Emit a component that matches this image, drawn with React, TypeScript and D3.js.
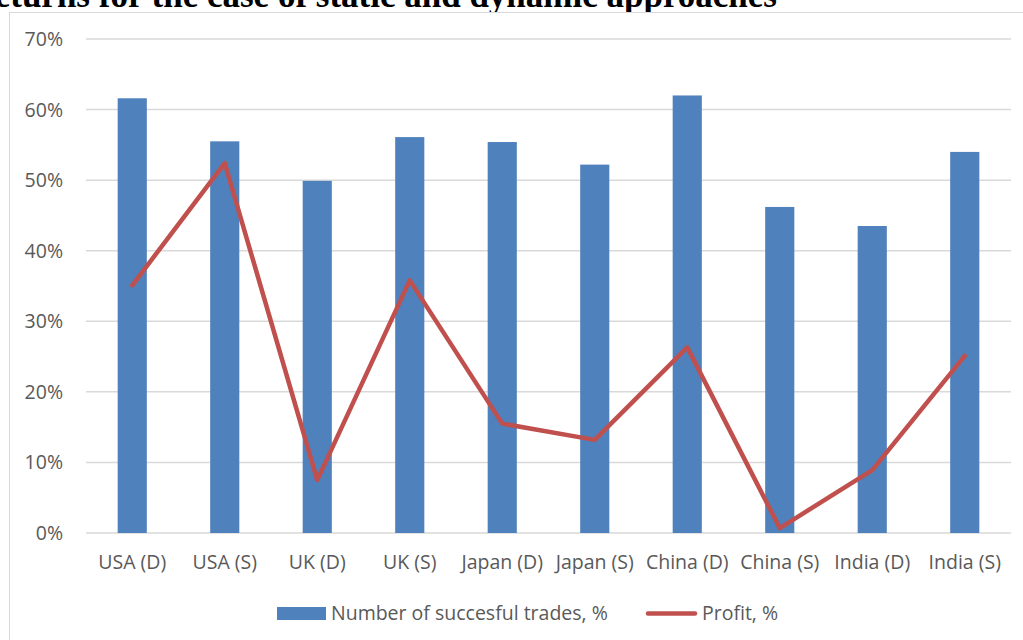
import * as React from 'react';
import * as d3 from 'd3';

const categories = ['USA (D)', 'USA (S)', 'UK (D)', 'UK (S)', 'Japan (D)', 'Japan (S)', 'China (D)', 'China (S)', 'India (D)', 'India (S)'];
const successfulTrades = [61.6, 55.5, 49.9, 56.1, 55.4, 52.2, 62.0, 46.2, 43.5, 54.0];
const profit = [35.1, 52.4, 7.5, 35.8, 15.5, 13.2, 26.3, 0.7, 8.9, 25.1];
const yTicks = [0, 10, 20, 30, 40, 50, 60, 70];
const seriesNames = ['Number of succesful trades, %', 'Profit, %'];
const titleText = 'returns for the case of static and dynamic approaches';

const BAR = '#4F81BD';
const LINE = '#C0504D';
const GRID = '#D9D9D9';
const TEXT = '#595959';
const FONT = '"Open Sans", "Noto Sans", sans-serif';
const FS = 19.5;

const App = () => {
	const width = 1023;
	const height = 640;
	const left = 86;
	const right = 1011;
	const top = 39;
	const bottom = 533;

	const x = d3.scaleBand<string>().domain(categories).range([left, right]).padding(0);
	const y = d3.scaleLinear().domain([0, 70]).range([bottom, top]);
	const barW = x.bandwidth() * 0.315;
	const cx = (c: string) => (x(c) as number) + x.bandwidth() / 2;

	const line = d3
		.line<number>()
		.x((_, i) => cx(categories[i]))
		.y(d => y(d));

	return (
		<svg
			width={width}
			height={height}
			style={{ position: 'absolute', left: 0, top: 0, display: 'block', background: '#fff' }}
		>
			{/* title is clipped by the top of the picture, as in the source */}
			<text
				x={777}
				y={7}
				textAnchor='end'
				fontFamily='"Liberation Serif", "Times New Roman", serif'
				fontWeight='bold'
				fontSize={35}
				fill='#000'
			>
				{titleText}
			</text>
			<rect x={9.5} y={12.5} width={1030} height={660} fill='#fff' stroke={GRID} strokeWidth={1} />

			{yTicks.map(t => (
				<g key={t}>
					<line x1={left} x2={right} y1={y(t)} y2={y(t)} stroke={GRID} strokeWidth={1.5} />
					<text x={63} y={y(t) + 7} textAnchor='end' fontFamily={FONT} fontSize={FS} fill={TEXT}>
						{t}%
					</text>
				</g>
			))}

			{categories.map((c, i) => (
				<rect
					key={c}
					x={cx(c) - barW / 2}
					y={y(successfulTrades[i])}
					width={barW}
					height={y(0) - y(successfulTrades[i])}
					fill={BAR}
				/>
			))}

			<path
				d={line(profit) as string}
				fill='none'
				stroke={LINE}
				strokeWidth={4.5}
				strokeLinejoin='round'
				strokeLinecap='round'
			/>

			{categories.map(c => (
				<text key={c} x={cx(c)} y={569} textAnchor='middle' fontFamily={FONT} fontSize={FS} fill={TEXT}>
					{c}
				</text>
			))}

			<g>
				<rect x={277} y={607} width={49} height={13} fill={BAR} />
				<text x={331} y={620} fontFamily={FONT} fontSize={FS} fill={TEXT}>
					{seriesNames[0]}
				</text>
				<line x1={648} x2={695} y1={613.5} y2={613.5} stroke={LINE} strokeWidth={4.5} strokeLinecap='round' />
				<text x={702} y={620} fontFamily={FONT} fontSize={FS} fill={TEXT}>
					{seriesNames[1]}
				</text>
			</g>
		</svg>
	);
};

export default App;
